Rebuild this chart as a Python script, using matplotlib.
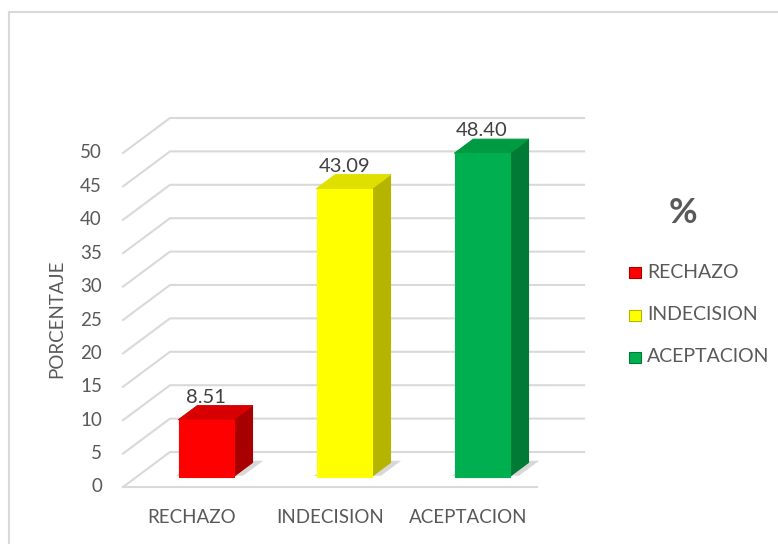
import matplotlib
matplotlib.use("Agg")
import matplotlib.pyplot as plt
from matplotlib.patches import Polygon, Rectangle
from matplotlib.lines import Line2D

categories = ["RECHAZO", "INDECISION", "ACEPTACION"]
values = [8.51, 43.09, 48.40]
value_labels = ["8.51", "43.09", "48.40"]
yticks = [0, 5, 10, 15, 20, 25, 30, 35, 40, 45, 50]
ylabel = "PORCENTAJE"
legend_title = "%"

front_colors = ["#ff0000", "#ffff00", "#00b050"]
side_colors = ["#a80000", "#b5b500", "#007a34"]
top_colors = ["#d80000", "#e0e000", "#009a42"]

plt.rcParams['font.family'] = ['Lato', 'DejaVu Sans']
TXT = "#595959"
GRID = "#d9d9d9"

W, H = 778, 544
fig = plt.figure(figsize=(W / 100, H / 100), dpi=100)
ax = fig.add_axes([0, 0, 1, 1])
# pixel mapping: px = 123 + 138*(x+0.5); py = 487 - 6.68*v
cat_px = 138.0
val_px = 6.68
ax.set_xlim(-0.5 - 123 / cat_px, -0.5 + (W - 123) / cat_px)
ax.set_ylim((487 - H) / val_px, 487 / val_px)
ax.axis("off")

# depth offsets (for z in [0,1])
DX = 47 / cat_px
DY = 35 / val_px

def proj(x, v, z):
    return (x + z * DX, v + z * DY)

n = len(categories)
x0, x1 = -0.5, n - 0.5

# gridlines: slanted side part + horizontal back part
for t in yticks:
    a = proj(x0, t, 0)
    b = proj(x0, t, 1)
    c = proj(x1, t, 1)
    ax.add_line(Line2D([a[0], b[0], c[0]], [a[1], b[1], c[1]], color=GRID, lw=1.5, zorder=1))
# floor front edge
a = proj(x0, 0, 0)
b = proj(x1, 0, 0)
ax.add_line(Line2D([a[0], b[0]], [a[1], b[1]], color=GRID, lw=1.5, zorder=1))

# y tick labels
for t in yticks:
    ax.text(x0 - 21 / cat_px, t, str(t), ha="right", va="center", fontsize=13.5, color=TXT)

# bars
bw = 0.40
z0, z1 = 0.30, 0.70
for i, (v, fc, sc, tc) in enumerate(zip(values, front_colors, side_colors, top_colors)):
    xl, xr = i - bw / 2, i + bw / 2
    # shadow
    sh = [proj(xl - 0.03, 0, z0 + 0.02), proj(xr + 0.06, 0, z0 + 0.02),
          proj(xr + 0.06, 0, z1 + 0.05), proj(xl + 0.05, 0, z1 + 0.05)]
    ax.add_patch(Polygon(sh, closed=True, fc="#bfbfbf", ec="none", alpha=0.6, zorder=2))
    front = [proj(xl, 0, z0), proj(xr, 0, z0), proj(xr, v, z0), proj(xl, v, z0)]
    side = [proj(xr, 0, z0), proj(xr, 0, z1), proj(xr, v, z1), proj(xr, v, z0)]
    top = [proj(xl, v, z0), proj(xr, v, z0), proj(xr, v, z1), proj(xl, v, z1)]
    ax.add_patch(Polygon(side, closed=True, fc=sc, ec=sc, lw=0.8, joinstyle="round", zorder=3))
    ax.add_patch(Polygon(top, closed=True, fc=tc, ec=tc, lw=0.8, joinstyle="round", zorder=3))
    ax.add_patch(Polygon(front, closed=True, fc=fc, ec=fc, lw=0.8, joinstyle="round", zorder=4))
    lx, ly = proj(i, v, z0)
    ax.text(lx, v + z1 * DY + 0.0, value_labels[i], ha="center", va="bottom",
            fontsize=14.5, color="#404040", zorder=5)

# category labels
for i, c in enumerate(categories):
    ax.text(i, -4.5, c, ha="center", va="center", fontsize=13.5, color=TXT)

# y axis label
fig.text(57 / W, 1 - 319 / H, ylabel, rotation=90, ha="center", va="center",
         fontsize=13.5, color=TXT)

# legend
fig.text(683 / W, 1 - 213 / H, legend_title, ha="center", va="center",
         fontsize=25, fontweight="bold", color=TXT)
leg_y = [272, 315, 357]
for yy, c, fc, sc in zip(leg_y, categories, front_colors, side_colors):
    fig.patches.append(Rectangle((629 / W, 1 - (yy + 5.5) / H), 12 / W, 11 / H,
                                 transform=fig.transFigure, fc=fc, ec=sc, lw=0.8))
    fig.text(647 / W, 1 - yy / H, c, ha="left", va="center", fontsize=14, color=TXT)

# chart area border (cropped)
fig.add_artist(Line2D([8.5 / W, 1.0], [1 - 11.5 / H, 1 - 11.5 / H], transform=fig.transFigure,
                      color="#d9d9d9", lw=1.5))
fig.add_artist(Line2D([8.5 / W, 8.5 / W], [1 - 11.5 / H, 0], transform=fig.transFigure,
                      color="#d9d9d9", lw=1.5))

fig.savefig("out.png", dpi=100)
